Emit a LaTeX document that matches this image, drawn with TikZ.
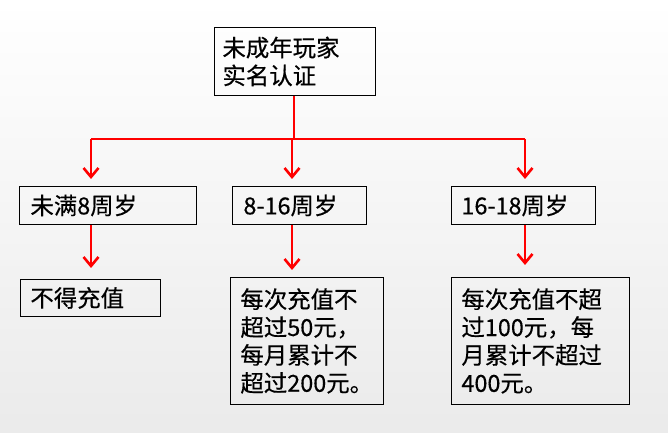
\documentclass[tikz,border=0pt]{standalone}
\usepackage{fontspec}
\setmainfont{Noto Sans CJK SC}[FakeBold=0.4]
\usetikzlibrary{arrows.meta}
\begin{document}
\begin{tikzpicture}[x=1bp,y=-1bp,
  box/.style={draw=black,line width=0.9pt,anchor=north west,align=left,
    font=\fontsize{23.5}{28}\selectfont,inner ysep=0pt},
  redline/.style={draw=red,line width=2.6bp},
  redarrow/.style={redline,-{Straight Barb[length=9bp,width=15bp]}}]
\shade[top color=white,bottom color=black!8] (0,0) rectangle (668,433);
\useasboundingbox (0,0) rectangle (668,433);
% top
\node[box,inner xsep=8bp,text width=145bp,minimum height=68bp] (top) at (214,27) {未成年玩家\\实名认证};
% level 2
\node[box,inner xsep=11bp,text width=155bp,minimum height=38bp] (b1) at (19,186) {未满8周岁};
\node[box,inner xsep=11bp,text width=112bp,minimum height=38bp] (b2) at (232,186) {8-16周岁};
\node[box,inner xsep=10bp,text width=124bp,minimum height=38bp] (b3) at (451,186) {16-18周岁};
% level 3
\node[box,inner xsep=10bp,text width=120bp,minimum height=37bp] (c1) at (20,279) {不得充值};
\node[box,inner xsep=10bp,text width=133bp,minimum height=127bp] (c2) at (230,277) {每次充值不\\超过50元，\\每月累计不\\超过200元。};
\node[box,inner xsep=10bp,text width=158bp,minimum height=127bp] (c3) at (451,277) {每次充值不超\\过100元，每\\月累计不超过\\400元。};
% connectors
\coordinate (j) at (294,139);
\coordinate (hl) at (91,139);
\coordinate (hr) at (525,139);
\coordinate (hm) at (292,139);
\draw[redline] (top.south -| j) -- (j);
\draw[redline] (hl) -- (hr);
\draw[redarrow] (hl) -- ++(0,40);
\draw[redarrow] (hm) -- ++(0,40);
\draw[redarrow] (hr) -- ++(0,40);
\coordinate (d1) at (91,268);
\coordinate (d2) at (292,270);
\coordinate (d3) at (525,265);
\draw[redarrow] (b1.south -| d1) -- (d1);
\draw[redarrow] (b2.south -| d2) -- (d2);
\draw[redarrow] (b3.south -| d3) -- (d3);
\end{tikzpicture}
\end{document}
